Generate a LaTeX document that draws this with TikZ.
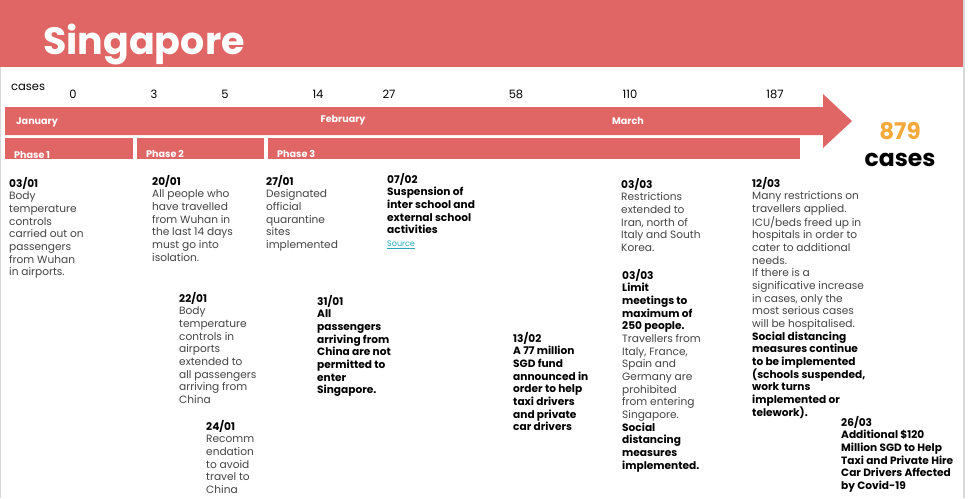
\documentclass[tikz,border=0pt]{standalone}
\usepackage{fontspec}
\setmainfont{Poppins}
\definecolor{brand}{HTML}{E06666}
\definecolor{orng}{HTML}{F6A93B}
\definecolor{txtgray}{HTML}{444444}
\definecolor{linkc}{HTML}{2AA8B8}
\definecolor{edge}{HTML}{D8D8D8}
\newcommand\bk[1]{\textbf{\color{black}#1}}
\tikzset{
  blk/.style={anchor=north west, inner sep=0pt, align=left, text=txtgray,
    font=\fontsize{10.6}{12.65}\selectfont},
  num/.style={inner sep=0pt, font=\fontsize{11.5}{13}\selectfont, text=black},
  wlab/.style={inner sep=0pt, text=white, font=\bfseries\fontsize{9.6}{11}\selectfont},
  band/.style={fill=brand, draw=none},
}
\begin{document}
\begin{tikzpicture}[x=1pt,y=-1pt]
\useasboundingbox (0,0) rectangle (968,498);
\fill[white] (0,0) rectangle (968,498);
\draw[edge, line width=1.5pt] (964,0) -- (964,498);
\draw[edge, line width=1pt] (0.5,67) -- (0.5,498);
% header
\fill[band] (0,0) rectangle (963,67);
\node[anchor=west, inner sep=0pt, text=white, font=\bfseries\fontsize{38}{44}\selectfont] (title) at (43,45) {Singapore};
% case numbers
\node[num, anchor=west] (caseslab) at (11,87) {cases};
\node[num] (n0) at (73,94) {0};
\node[num] (n3) at (154,94) {3};
\node[num] (n5) at (225,94) {5};
\node[num] (n14) at (318,94) {14};
\node[num] (n27) at (389,94) {27};
\node[num] (n58) at (516,94) {58};
\node[num] (n110) at (630,94) {110};
\node[num] (n187) at (775,94) {187};
% arrow
\fill[band] (5,107) -- (823,107) -- (823,94) -- (852,121) -- (823,148) -- (823,135) -- (5,135) -- cycle;
\node[wlab, anchor=west] (jan) at (16,122) {January};
\node[wlab] (feb) at (343,120) {February};
\node[wlab] (mar) at (628,121) {March};
% phases
\fill[band] (5,138) rectangle (133,159);
\fill[band] (137,138) rectangle (264,159);
\fill[band] (268,138) rectangle (800,159);
\node[wlab, anchor=west] (p1) at (14,155) {Phase 1};
\node[wlab, anchor=west] (p2) at (146,154) {Phase 2};
\node[wlab, anchor=west] (p3) at (277,154) {Phase 3};
% total
\node[inner sep=0pt, text=orng, font=\bfseries\fontsize{23}{26}\selectfont] (tot) at (900,131) {879};
\node[inner sep=0pt, text=black, font=\bfseries\fontsize{23.5}{26}\selectfont] (totc) at (900,160) {cases};
% blocks
\node[blk] (b0301) at (9,177) {\bk{03/01}\\Body\\temperature\\controls\\carried out on\\passengers\\from Wuhan\\in airports.};
\node[blk] (b2001) at (152,175) {\bk{20/01}\\All people who\\have travelled\\from Wuhan in\\the last 14 days\\must go into\\isolation.};
\node[blk] (b2701) at (266,175) {\bk{27/01}\\Designated\\official\\quarantine\\sites\\implemented};
\node[blk] (b0702) at (387,173) {\bk{07/02}\\\bk{Suspension of}\\\bk{inter school and}\\\bk{external school}\\\bk{activities}\\{\fontsize{8}{10}\selectfont\color{linkc}\underline{Source}}};
\node[blk] (b2201) at (179,292) {\bk{22/01}\\Body\\temperature\\controls in\\airports\\extended to\\all passengers\\arriving from\\China};
\node[blk] (b3101) at (317,295) {\bk{31/01}\\\bk{All}\\\bk{passengers}\\\bk{arriving from}\\\bk{China are not}\\\bk{permitted to}\\\bk{enter}\\\bk{Singapore.}};
\node[blk] (b2401) at (206,420) {\bk{24/01}\\Recomm\\endation\\to avoid\\travel to\\China};
\node[blk] (b1302) at (513,332) {\bk{13/02}\\\bk{A 77 million}\\\bk{SGD fund}\\\bk{announced in}\\\bk{order to help}\\\bk{taxi drivers}\\\bk{and private}\\\bk{car drivers}};
\node[blk] (b0303a) at (621,178) {\bk{03/03}\\Restrictions\\extended to\\Iran, north of\\Italy and South\\Korea.};
\node[blk] (b0303b) at (622,269) {\bk{03/03}\\\bk{Limit}\\\bk{meetings to}\\\bk{maximum of}\\\bk{250 people.}\\Travellers from\\Italy, France,\\Spain and\\Germany are\\prohibited\\from entering\\Singapore.\\\bk{Social}\\\bk{distancing}\\\bk{measures}\\\bk{implemented.}};
\node[blk] (b1203) at (752,177) {\bk{12/03}\\Many restrictions on\\travellers applied.\\ICU/beds freed up in\\hospitals in order to\\cater to additional\\needs.\\If there is a\\significative increase\\in cases, only the\\most serious cases\\will be hospitalised.\\\bk{Social distancing}\\\bk{measures continue}\\\bk{to be implemented}\\\bk{(schools suspended,}\\\bk{work turns}\\\bk{implemented or}\\\bk{telework).}};
\node[blk] (b2603) at (841,416) {\bk{26/03}\\\bk{Additional \$120}\\\bk{Million SGD to Help}\\\bk{Taxi and Private Hire}\\\bk{Car Drivers Affected}\\\bk{by Covid-19}};
\end{tikzpicture}
\end{document}
